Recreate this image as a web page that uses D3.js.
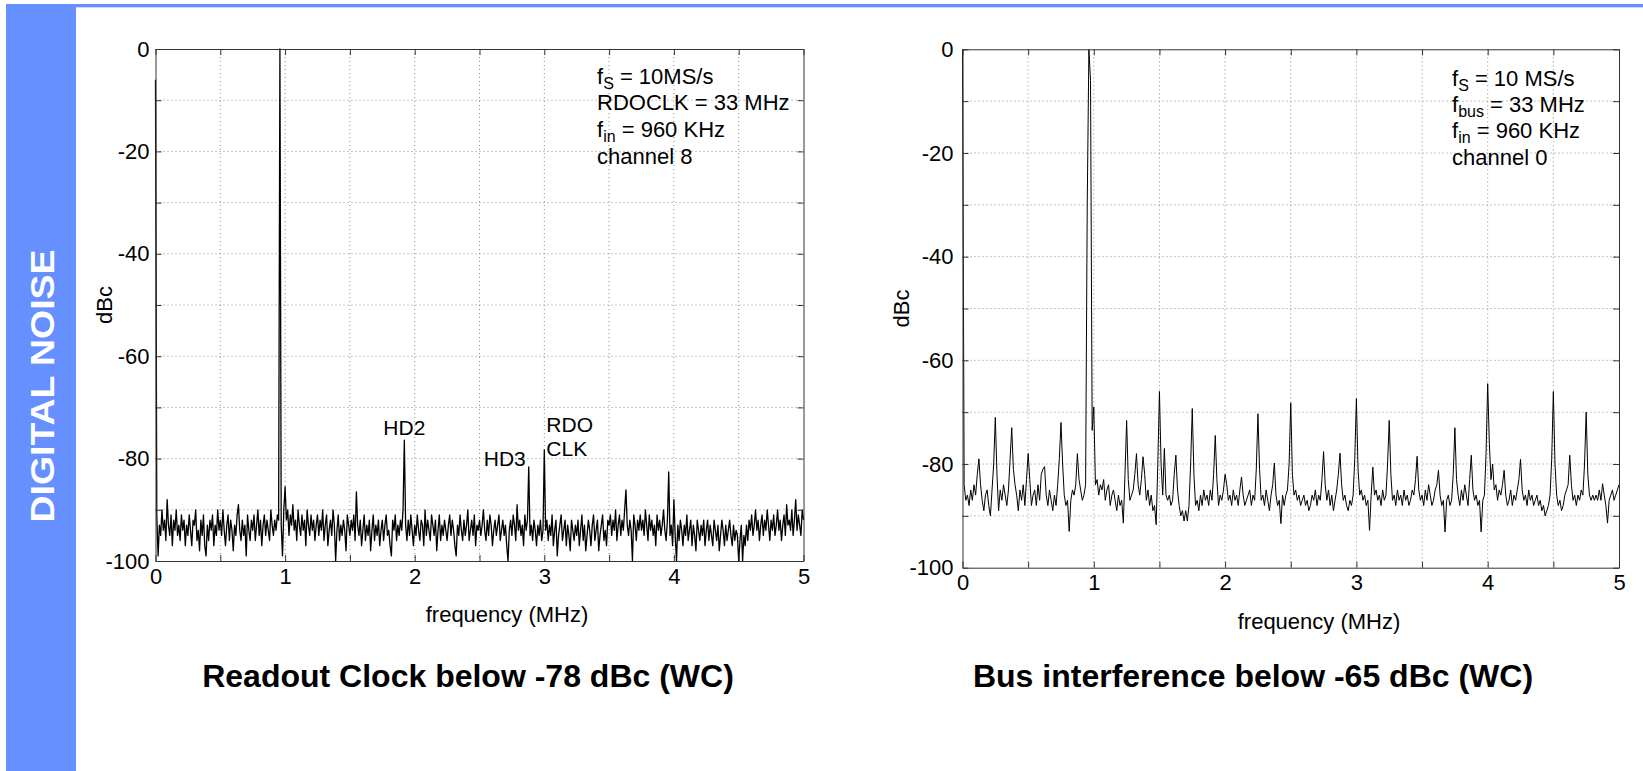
<!DOCTYPE html>
<html>
<head>
<meta charset="utf-8">
<script src="https://cdn.jsdelivr.net/npm/d3@7"></script>
<style>
body { margin: 0; background: #fff; }
</style>
</head>
<body>
<div id="chart"></div>
<script>
// Spectrum values (dBc), evenly spaced bins from 0 to 5 MHz
var leftStep = 0.01;
var leftDb = [
  -6,-91,-99,-93,-95,-90,-94,-92,-96,-88,-93,-95,-91,-97,-92,-94,-90,-95,-93,-96,-91,-94,-92,-97,-93,
  -95,-91,-94,-97,-92,-93,-90,-96,-94,-98,-92,-95,-91,-97,-99,-93,-96,-92,-94,-91,-97,-93,-95,-90,-94,
  -92,-95,-90,-94,-97,-93,-91,-96,-92,-94,-98,-93,-95,-91,-89,-94,-96,-92,-95,-93,-99,-91,-94,-96,-92,
  -94,-91,-96,-93,-90,-95,-92,-97,-93,-91,-95,-92,-94,-96,-90,-93,-95,-92,-94,-91,-92,0,-93,-99,-90,
  -85.5,-92,-90,-95,-91,-93,-89,-94,-92,-96,-90,-93,-95,-91,-94,-92,-97,-90,-93,-95,-91,-94,-92,-96,-93,
  -91,-95,-92,-94,-90,-96,-93,-91,-97,-94,-92,-95,-90,-93,-100,-94,-91,-96,-93,-95,-92,-94,-98,-91,-93,
  -95,-92,-94,-91,-96,-86.5,-93,-95,-92,-97,-94,-91,-96,-93,-95,-92,-98,-94,-91,-96,-93,-95,-92,-97,-94,
  -92,-96,-93,-91,-95,-94,-97,-99,-92,-94,-91,-96,-93,-95,-92,-94,-90,-76.4,-93,-96,-92,-95,-91,-94,-97,
  -93,-95,-91,-94,-96,-92,-93,-97,-90,-95,-92,-94,-96,-91,-93,-95,-92,-98,-94,-91,-96,-93,-95,-92,-94,
  -96,-93,-91,-95,-92,-94,-97,-99,-93,-95,-91,-94,-96,-92,-95,-93,-90,-96,-94,-92,-95,-91,-97,-93,-94,
  -92,-95,-93,-90,-94,-96,-92,-95,-91,-93,-97,-94,-92,-95,-93,-91,-96,-94,-92,-95,-93,-97,-100,-94,-92,
  -95,-91,-93,-96,-89,-94,-92,-95,-93,-97,-91,-94,-92,-81.6,-95,-93,-96,-92,-94,-97,-93,-95,-92,-96,-94,
  -78.3,-94,-92,-96,-93,-95,-91,-97,-94,-92,-99,-95,-93,-91,-96,-94,-92,-97,-93,-95,-98,-92,-94,-96,-93,
  -95,-92,-97,-94,-91,-96,-93,-98,-95,-92,-94,-97,-93,-91,-96,-94,-92,-98,-95,-93,-91,-96,-94,-97,-92,
  -93,-91,-95,-92,-94,-90,-96,-93,-91,-95,-92,-94,-90,-86.1,-93,-95,-92,-94,-100,-91,-93,-96,-92,-94,-91,
  -94,-92,-95,-90,-93,-96,-91,-94,-92,-95,-93,-97,-91,-94,-92,-95,-93,-90,-94,-96,-92,-82.6,-95,-93,-97,
  -88,-95,-100,-93,-96,-92,-94,-97,-93,-95,-91,-96,-94,-92,-97,-93,-95,-98,-92,-94,-96,-93,-95,-92,-97,
  -94,-92,-96,-93,-95,-97,-92,-94,-96,-93,-98,-95,-92,-94,-97,-93,-96,-94,-92,-95,-97,-93,-96,-94,-95,
  -100,-96,-93,-100,-95,-97,-93,-96,-92,-94,-91,-95,-93,-90,-94,-92,-96,-93,-91,-95,-92,-94,-90,-93,-96,
  -92,-94,-91,-95,-93,-90,-94,-92,-96,-93,-91,-95,-89,-93,-92,-94,-90,-95,-92,-88,-94,-91,-93,-95,-90,
  -92
];

var rightStep = 0.0125;
var rightDb = [
  0,-84,-87,-86,-88,-85,-87,-84,-86,-82,-79,-84,-87,-89,-86,-85,-88,-90,-85,-80,
  -71,-82,-89,-85,-87,-84,-86,-88,-85,-79,-73,-81,-84,-86,-89,-85,-87,-84,-88,-83,
  -78,-83,-88,-86,-85,-88,-84,-87,-82,-81,-80.5,-86,-88,-85,-87,-89,-86,-88,-84,-79,
  -72,-80,-86,-88,-87,-93,-87,-85,-86,-84,-78,-83,-85,-87,-86,-84,-30,0,-6,-73.5,
  -69,-84,-83,-86,-84,-85,-83,-87,-85,-84,-88,-86,-85,-87,-89,-86,-88,-87,-91.4,-82,
  -71.6,-83,-87,-86,-85,-82,-78,-84,-86,-83,-78.6,-82,-87,-85,-88,-86,-89,-88,-91.7,-80,
  -66,-80,-86,-77,-86,-87,-86,-88,-87,-82,-78.3,-85,-88,-90,-89,-91,-89,-91,-88,-80,
  -69.3,-82,-88,-87,-89,-86,-88,-85,-87,-86,-88,-85,-87,-82,-74.5,-83,-88,-86,-87,-85,
  -82,-84,-87,-86,-88,-85,-87,-86,-88,-85,-82.5,-86,-88,-87,-86,-85,-88,-86,-87,-81,
  -70.3,-81,-87,-86,-88,-85,-87,-89,-86,-84,-79.8,-86,-88,-87,-91.5,-86,-88,-86,-85,-80,
  -68.2,-82,-86,-85,-87,-86,-88,-87,-86,-88,-87,-89,-88,-86,-87,-85,-88,-86,-87,-83,
  -77.6,-84,-87,-85,-88,-86,-89,-87,-85,-82,-77.9,-84,-87,-86,-88,-89,-87,-88,-86,-79,
  -67.4,-81,-86,-85,-87,-86,-88,-87,-92.8,-86,-80.6,-86,-85,-87,-86,-88,-85,-87,-86,-80,
  -71.6,-82,-87,-86,-88,-85,-87,-86,-88,-85,-87,-86,-88,-87,-85,-86,-83,-78.5,-85,-87,
  -86,-88,-85,-87,-84,-86,-88,-87,-85,-84,-81.2,-86,-88,-87,-93.1,-87,-86,-88,-87,-82,
  -73,-83,-86,-88,-85,-87,-84,-86,-88,-83,-78.3,-85,-87,-86,-88,-87,-93.1,-87,-86,-78,
  -64.5,-76,-83,-80,-85,-84,-87,-85,-86,-84,-81.2,-86,-88,-87,-85,-88,-86,-87,-85,-83,
  -79.1,-85,-87,-86,-88,-85,-87,-86,-88,-87,-86,-88,-87,-89,-88,-90,-89,-88,-86,-79,
  -66,-80,-86,-88,-87,-89,-88,-86,-85,-84,-78.3,-84,-87,-86,-88,-86,-87,-85,-86,-80,
  -70,-82,-86,-87,-86,-87,-86,-87,-85,-87,-83.8,-86,-88,-91.4,-87,-86,-85,-87,-86,-85,
  -84
];

// Tick values
var xTicks = [0, 0.5, 1, 1.5, 2, 2.5, 3, 3.5, 4, 4.5, 5];
var yTicks = [-100, -90, -80, -70, -60, -50, -40, -30, -20, -10, 0];

// Settings boxes: [text, subscript, rest]
var leftInfo = [["f", "S", " = 10MS/s"], ["RDOCLK = 33 MHz", "", ""], ["f", "in", " = 960 KHz"], ["channel 8", "", ""]];
var rightInfo = [["f", "S", " = 10 MS/s"], ["f", "bus", " = 33 MHz"], ["f", "in", " = 960 KHz"], ["channel 0", "", ""]];

var titles = ["Readout Clock below -78 dBc (WC)", "Bus interference below -65 dBc (WC)"];

//Define SVG area dimensions
var svgWidth = 1643;
var svgHeight = 771;
var fontFamily = "'Liberation Sans', Arial, Helvetica, sans-serif";
var plotFont = 22;

var svg = d3.select("#chart").append("svg")
    .attr("width", svgWidth)
    .attr("height", svgHeight)
    .attr("font-family", fontFamily);

svg.append("rect")
    .attr("width", svgWidth)
    .attr("height", svgHeight)
    .attr("fill", "#fff");

// blue side band and top strip
svg.append("rect")
    .attr("x", 6).attr("y", 4)
    .attr("width", 70).attr("height", svgHeight - 4)
    .attr("fill", "#6690ff");
svg.append("rect")
    .attr("x", 6).attr("y", 4)
    .attr("width", svgWidth - 6).attr("height", 3.3)
    .attr("fill", "#6690ff");

svg.append("text")
    .attr("transform", "translate(54,386) rotate(-90) scale(1.1,1)")
    .attr("text-anchor", "middle")
    .attr("fill", "#fff")
    .attr("font-weight", "bold")
    .attr("font-size", 34)
    .text("DIGITAL NOISE");

function drawPanel(p) {
    var xScale = d3.scaleLinear().domain([0, 5]).range([p.left, p.right]);
    var yScale = d3.scaleLinear().domain([-100, 0]).range([p.bottom, p.top]);

    var g = svg.append("g");

    // dotted grid
    g.append("g").selectAll("line")
        .data(xTicks.slice(1, -1))
        .enter()
        .append("line")
        .attr("x1", d => xScale(d)).attr("x2", d => xScale(d))
        .attr("y1", p.top).attr("y2", p.bottom)
        .attr("stroke", "#8a8a8a")
        .attr("stroke-dasharray", "1,3");
    g.append("g").selectAll("line")
        .data(yTicks.slice(1, -1))
        .enter()
        .append("line")
        .attr("y1", d => yScale(d)).attr("y2", d => yScale(d))
        .attr("x1", p.left).attr("x2", p.right)
        .attr("stroke", "#8a8a8a")
        .attr("stroke-dasharray", "1,3");

    // spectrum trace
    var line = d3.line()
        .x((d, i) => xScale(i * p.step))
        .y(d => yScale(d));
    g.append("path")
        .datum(p.values)
        .attr("d", line)
        .attr("fill", "none")
        .attr("stroke", "#000")
        .attr("stroke-width", p.lineWidth)
        .attr("stroke-linejoin", "round");

    // axes, ticks inside on all four sides
    var bottomAxis = d3.axisBottom(xScale).tickValues(xTicks).tickSize(-6).tickSizeOuter(0)
        .tickPadding(7).tickFormat(d => d % 1 === 0 ? d : "");
    var topAxis = d3.axisTop(xScale).tickValues(xTicks).tickSize(-6).tickSizeOuter(0).tickFormat("");
    var leftAxis = d3.axisLeft(yScale).tickValues(yTicks).tickSize(-6).tickSizeOuter(0)
        .tickPadding(p.yPad).tickFormat(d => d % 20 === 0 ? d : "");
    var rightAxis = d3.axisRight(yScale).tickValues(yTicks).tickSize(-6).tickSizeOuter(0).tickFormat("");

    var axes = [
        g.append("g").attr("transform", `translate(0, ${p.bottom})`).call(bottomAxis),
        g.append("g").attr("transform", `translate(0, ${p.top})`).call(topAxis),
        g.append("g").attr("transform", `translate(${p.left}, 0)`).call(leftAxis),
        g.append("g").attr("transform", `translate(${p.right}, 0)`).call(rightAxis)
    ];
    axes.forEach(function(a) {
        a.attr("font-family", fontFamily).attr("font-size", plotFont);
        a.selectAll(".domain, .tick line").attr("stroke", "#333");
        a.selectAll(".tick text").attr("fill", "#000");
    });

    // axis labels
    g.append("text")
        .attr("x", p.xLabelX).attr("y", p.xLabelY)
        .attr("text-anchor", "middle")
        .attr("font-size", plotFont)
        .text("frequency (MHz)");
    g.append("text")
        .attr("transform", `translate(${p.yLabelX}, ${(p.top + p.bottom) / 2}) rotate(-90)`)
        .attr("text-anchor", "middle")
        .attr("font-size", plotFont)
        .text("dBc");

    // settings text, one text per line
    p.info.forEach(function(row, i) {
        var t = g.append("text")
            .attr("x", p.infoX).attr("y", p.infoY[i])
            .attr("font-size", plotFont);
        t.append("tspan").text(row[0]);
        if (row[1]) {
            t.append("tspan").attr("dy", 5).attr("font-size", 16).text(row[1]);
            t.append("tspan").attr("dy", -5).text(row[2]);
        }
    });

    // title below the panel
    svg.append("text")
        .attr("x", p.titleX).attr("y", 687)
        .attr("text-anchor", "middle")
        .attr("font-size", 32)
        .attr("font-weight", "bold")
        .text(p.title);

    return {x: xScale, y: yScale, g: g};
}

var leftPanel = drawPanel({
    left: 155.5, right: 803.5, top: 49, bottom: 561,
    step: leftStep, values: leftDb, lineWidth: 1.3,
    yPad: 6, xLabelX: 507, xLabelY: 622, yLabelX: 112,
    info: leftInfo, infoX: 597, infoY: [84, 110, 137, 164],
    titleX: 468, title: titles[0]
});

var rightPanel = drawPanel({
    left: 962.5, right: 1619, top: 49.3, bottom: 567.7,
    step: rightStep, values: rightDb, lineWidth: 1,
    yPad: 9, xLabelX: 1319, xLabelY: 629, yLabelX: 909,
    info: rightInfo, infoX: 1452, infoY: [86, 112, 138, 165],
    titleX: 1253, title: titles[1]
});

// spur labels on the left panel
var spurLabels = [
    {lines: ["HD2"], f: 1.92, db: -75.3, anchor: "middle", dx: 0},
    {lines: ["HD3"], f: 2.88, db: -81.4, anchor: "end", dx: -3},
    {lines: ["RDO", "CLK"], f: 3.0, db: -74.9, anchor: "start", dx: 2}
];
spurLabels.forEach(function(s) {
    var t = leftPanel.g.append("text")
        .attr("font-size", 21)
        .attr("text-anchor", s.anchor);
    s.lines.forEach(function(l, i) {
        t.append("tspan")
            .attr("x", leftPanel.x(s.f) + s.dx)
            .attr("y", leftPanel.y(s.db) + i * 24)
            .text(l);
    });
});
</script>
</body>
</html>
